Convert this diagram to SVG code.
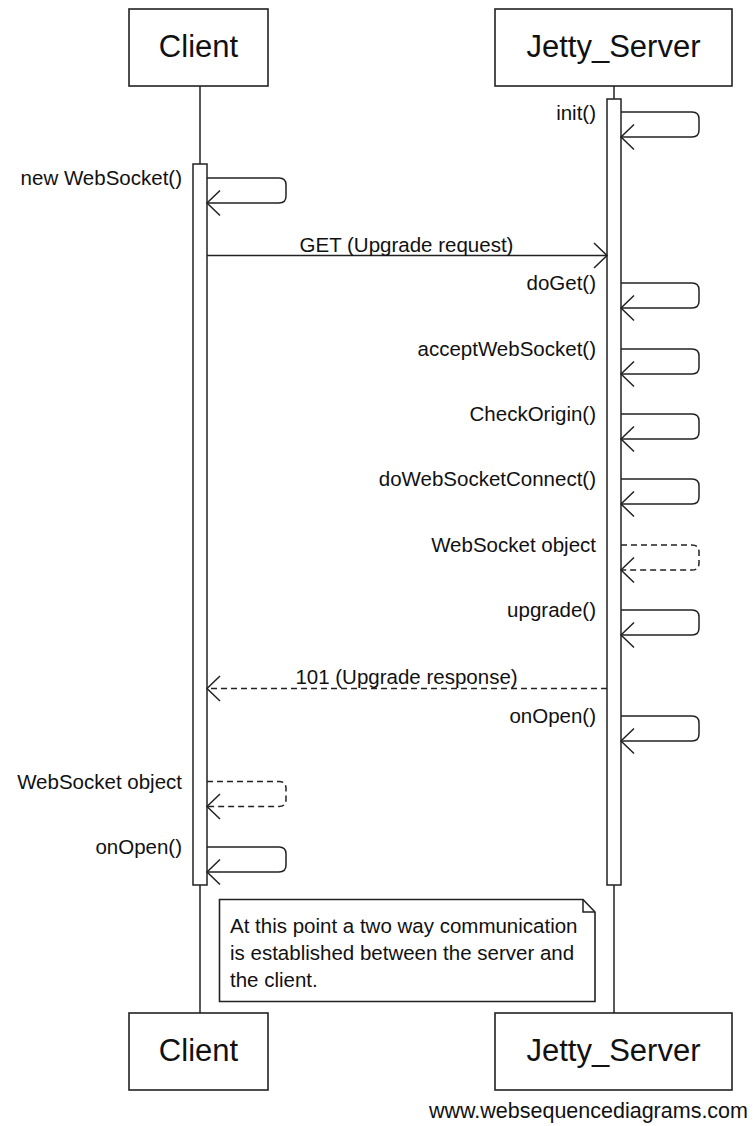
<svg xmlns="http://www.w3.org/2000/svg" width="754" height="1126" viewBox="0 0 754 1126">
<style>
.box{fill:#fff;stroke:#222;stroke-width:1.6}
.life{stroke:#222;stroke-width:1.5;fill:none}
.bar{fill:#fff;stroke:#222;stroke-width:1.5}
.msg{fill:none;stroke:#222;stroke-width:1.5}
.dash{stroke-dasharray:6,4}
.hdr{font-family:"Liberation Sans",Arial,sans-serif;font-size:31px;fill:#111;text-anchor:middle}
.lbl{font-family:"Liberation Sans",Arial,sans-serif;font-size:20.5px;fill:#111}
.end{text-anchor:end}
.mid{text-anchor:middle}
.foot{font-family:"Liberation Sans",Arial,sans-serif;font-size:21.5px;fill:#111;text-anchor:end}
</style>
<defs>
<marker id="open" markerUnits="userSpaceOnUse" markerWidth="16" markerHeight="28" viewBox="-14 -14 16 28" refX="0" refY="0" orient="auto" overflow="visible">
<path d="M-13,-12.5 L0,0 L-13,12.5" fill="none" stroke="#222" stroke-width="1.5" stroke-dasharray="none"/>
</marker>
</defs>
<rect width="754" height="1126" fill="#fff"/>
<g id="lifelines">
<line class="life" x1="200" y1="86" x2="200" y2="1013"/>
<line class="life" x1="614" y1="86" x2="614" y2="1013"/>
</g>
<g id="client">
<rect class="box" x="129" y="9" width="139" height="77"/>
<text class="hdr" x="198.5" y="57">Client</text>
<rect class="bar" x="193" y="164" width="14" height="721"/>
</g>
<g id="jetty_server">
<rect class="box" x="495" y="9" width="237" height="77"/>
<text class="hdr" x="613.5" y="57">Jetty_Server</text>
<rect class="bar" x="607" y="99" width="14" height="786"/>
</g>
<g id="client_bottom">
<rect class="box" x="129" y="1013" width="139" height="77"/>
<text class="hdr" x="198.5" y="1061">Client</text>
</g>
<g id="jetty_server_bottom">
<rect class="box" x="495" y="1013" width="237" height="77"/>
<text class="hdr" x="613.5" y="1061">Jetty_Server</text>
</g>
<g id="connectors">
<path class="msg" marker-end="url(#open)" d="M621,112 H692 Q699,112 699,119 V130 Q699,137 692,137 H621"/>
<path class="msg" marker-end="url(#open)" d="M207,178 H279 Q286,178 286,185 V196 Q286,203 279,203 H207"/>
<line class="msg" marker-end="url(#open)" x1="207" y1="255.5" x2="607" y2="255.5"/>
<path class="msg" marker-end="url(#open)" d="M621,283 H692 Q699,283 699,290 V301 Q699,308 692,308 H621"/>
<path class="msg" marker-end="url(#open)" d="M621,349 H692 Q699,349 699,356 V367 Q699,374 692,374 H621"/>
<path class="msg" marker-end="url(#open)" d="M621,414 H692 Q699,414 699,421 V432 Q699,439 692,439 H621"/>
<path class="msg" marker-end="url(#open)" d="M621,479 H692 Q699,479 699,486 V497 Q699,504 692,504 H621"/>
<path class="msg dash" marker-end="url(#open)" d="M621,545 H692 Q699,545 699,552 V563 Q699,570 692,570 H621"/>
<path class="msg" marker-end="url(#open)" d="M621,610 H692 Q699,610 699,617 V628 Q699,635 692,635 H621"/>
<line class="msg dash" marker-end="url(#open)" x1="607" y1="688.5" x2="207" y2="688.5"/>
<path class="msg" marker-end="url(#open)" d="M621,716 H692 Q699,716 699,723 V734 Q699,741 692,741 H621"/>
<path class="msg dash" marker-end="url(#open)" d="M207,781.5 H279 Q286,781.5 286,788.5 V799.5 Q286,806.5 279,806.5 H207"/>
<path class="msg" marker-end="url(#open)" d="M207,847 H279 Q286,847 286,854 V865 Q286,872 279,872 H207"/>
</g>
<g id="labels">
<text class="lbl end" x="596" y="120">init()</text>
<text class="lbl end" x="182" y="185">new WebSocket()</text>
<text class="lbl mid" x="406.5" y="252">GET (Upgrade request)</text>
<text class="lbl end" x="596" y="290">doGet()</text>
<text class="lbl end" x="596" y="356">acceptWebSocket()</text>
<text class="lbl end" x="596" y="421">CheckOrigin()</text>
<text class="lbl end" x="596" y="486">doWebSocketConnect()</text>
<text class="lbl end" x="596" y="552">WebSocket object</text>
<text class="lbl end" x="596" y="617">upgrade()</text>
<text class="lbl mid" x="406.5" y="683.5">101 (Upgrade response)</text>
<text class="lbl end" x="596" y="723">onOpen()</text>
<text class="lbl end" x="182" y="789">WebSocket object</text>
<text class="lbl end" x="182" y="854">onOpen()</text>
</g>
<g id="note">
<path class="box" d="M219.5,899.5 H583 L595,912 V1001.5 H219.5 Z"/>
<path fill="none" stroke="#222" stroke-width="1.5" d="M583,899.5 V912 H595"/>
<text class="lbl" x="230" y="933">At this point a two way communication</text>
<text class="lbl" x="230" y="960">is established between the server and</text>
<text class="lbl" x="230" y="987">the client.</text>
</g>
<text class="foot" x="748" y="1118">www.websequencediagrams.com</text>
</svg>
